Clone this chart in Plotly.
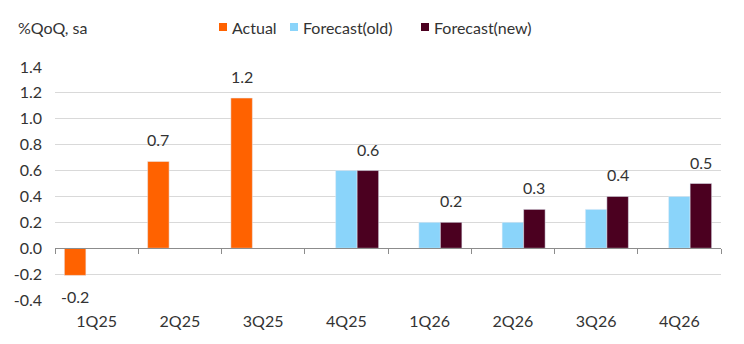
import plotly.graph_objects as go

quarters = ["1Q25", "2Q25", "3Q25", "4Q25", "1Q26", "2Q26", "3Q26", "4Q26"]
actual = [-0.21, 0.67, 1.16, None, None, None, None, None]
forecast_old = [None, None, None, 0.6, 0.2, 0.2, 0.3, 0.4]
forecast_new = [None, None, None, 0.6, 0.2, 0.3, 0.4, 0.5]
y_ticks = [-0.4, -0.2, 0.0, 0.2, 0.4, 0.6, 0.8, 1.0, 1.2, 1.4]

series_names = ["Actual", "Forecast(old)", "Forecast(new)"]
series_colors = ["#FF6200", "#8AD4FA", "#4B0020"]

FONT = "Lato"
TXT = "#333333"
FS = 16

W, H = 744, 344
M = dict(l=55, r=23, t=67, b=44)
BARGAP = 0.225
plot_w = W - M["l"] - M["r"]
plot_h = H - M["t"] - M["b"]
bar_px = plot_w / len(quarters) * (1 - BARGAP) / 3

fig = go.Figure()
for name, vals, col in zip(series_names, [actual, forecast_old, forecast_new], series_colors):
    fig.add_trace(go.Bar(x=quarters, y=vals, name=name, marker_color=col, showlegend=False))
# helper trace to build the zero-line axis with boundary ticks
fig.add_trace(go.Scatter(x=quarters, y=[None] * len(quarters), xaxis="x2",
                         showlegend=False, hoverinfo="skip", mode="markers"))

annotations = []
# data labels: actual (left bar) and forecast(new) (right bar)
for vals, shift in [(actual, -bar_px), (forecast_new, bar_px)]:
    for q, v in zip(quarters, vals):
        if v is None:
            continue
        neg = v < 0
        annotations.append(dict(
            x=q, y=v, xref="x", yref="y", text=f"{v:.1f}", showarrow=False,
            xshift=shift, yshift=-10 if neg else 10,
            yanchor="top" if neg else "bottom", xanchor="center",
            font=dict(size=FS, color=TXT, family=FONT)))

# axis title
def px_x(px):
    return (px - M["l"]) / plot_w

def px_y(py):
    return (H - M["b"] - py) / plot_h

LEG_Y = 27
annotations.append(dict(text="%QoQ, sa", xref="paper", yref="paper", x=px_x(16), y=px_y(LEG_Y),
                        xanchor="left", yanchor="middle", showarrow=False,
                        font=dict(size=FS, color=TXT, family=FONT)))

# custom legend (small squares + labels)
legend_x = [219, 290, 421]
shapes = []
for name, col, lx in zip(series_names, series_colors, legend_x):
    shapes.append(dict(type="rect", xref="paper", yref="paper",
                       x0=px_x(lx), x1=px_x(lx + 8), y0=px_y(LEG_Y + 4), y1=px_y(LEG_Y - 4),
                       fillcolor=col, line=dict(width=0)))
    annotations.append(dict(text=name, xref="paper", yref="paper", x=px_x(lx + 11), y=px_y(LEG_Y),
                            xanchor="left", yanchor="middle", showarrow=False,
                            font=dict(size=FS, color=TXT, family=FONT)))

y0, y1 = -0.4, 1.4
fig.update_layout(
    width=W, height=H,
    margin=M,
    paper_bgcolor="white", plot_bgcolor="white",
    barmode="group", bargap=BARGAP, bargroupgap=0,
    font=dict(family=FONT, size=FS, color=TXT),
    showlegend=False,
    xaxis=dict(type="category", range=[-0.5, 7.5], showgrid=False, showline=False,
               ticks="", tickfont=dict(size=FS, color=TXT), zeroline=False,
               ticklabelstandoff=10),
    xaxis2=dict(type="category", overlaying="x", anchor="free",
                position=(0 - y0) / (y1 - y0), range=[-0.5, 7.5],
                showline=True, linecolor="#8c8c8c", linewidth=1,
                ticks="outside", tickson="boundaries", ticklen=5, tickcolor="#8c8c8c",
                showticklabels=False, showgrid=False, side="bottom"),
    yaxis=dict(range=[y0, y1], tickvals=y_ticks, ticktext=[f"{v:.1f}" for v in y_ticks],
               showgrid=True, gridcolor="#d9d9d9", gridwidth=1, zeroline=False,
               tickfont=dict(size=FS, color=TXT), ticks="", showline=False,
               ticklabelstandoff=12),
    annotations=annotations,
    shapes=shapes,
)

fig.write_html("out.html")
